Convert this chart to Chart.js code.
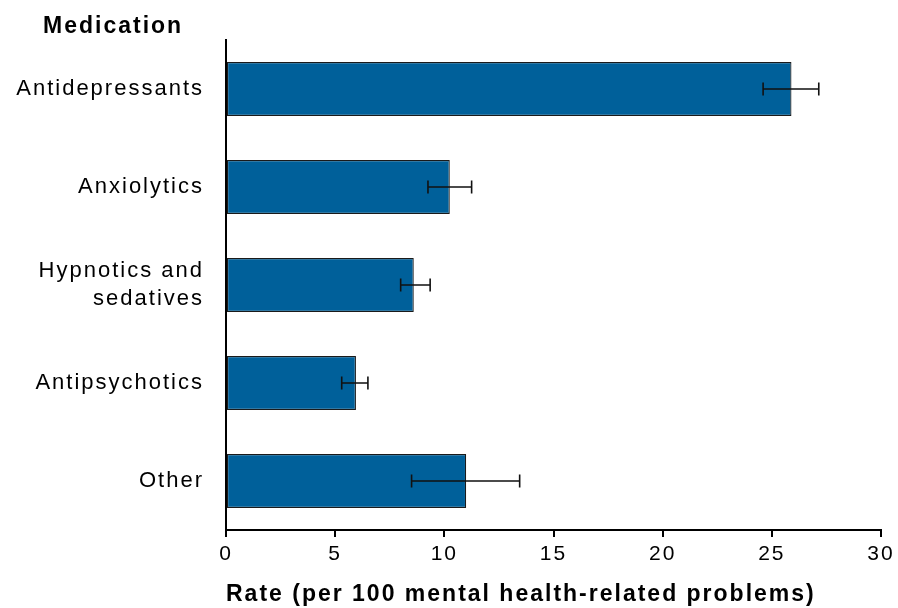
<!DOCTYPE html>
<html>
<head>
<meta charset="utf-8">
<script src="https://cdn.jsdelivr.net/npm/chart.js@4/dist/chart.umd.min.js"></script>
<style>
  html, body { margin: 0; padding: 0; background: #fff; }
  canvas { display: block; }
</style>
</head>
<body>
<canvas id="chart" width="898" height="608"></canvas>
<script>
const categories = ['Antidepressants', 'Anxiolytics', ['Hypnotics and', 'sedatives'], 'Antipsychotics', 'Other'];
const rates = [25.9, 10.25, 8.6, 5.95, 11.0];
const ciLow = [24.6, 9.25, 8.0, 5.3, 8.5];
const ciHigh = [27.15, 11.25, 9.35, 6.5, 13.45];
const xTicks = [0, 5, 10, 15, 20, 25, 30];

Chart.defaults.font.family = '"Liberation Sans", Arial, sans-serif';
Chart.defaults.color = '#000';

// error bars drawn from the scales
const errorBars = {
  id: 'errorBars',
  afterDatasetsDraw(chart) {
    const ctx = chart.ctx;
    const x = chart.scales.x;
    const y = chart.scales.y;
    ctx.save();
    ctx.strokeStyle = '#111';
    ctx.lineWidth = 1.6;
    rates.forEach((v, i) => {
      const py = y.getPixelForValue(i);
      const x1 = x.getPixelForValue(ciLow[i]);
      const x2 = x.getPixelForValue(ciHigh[i]);
      ctx.beginPath();
      ctx.moveTo(x1, py);
      ctx.lineTo(x2, py);
      ctx.moveTo(x1, py - 6.5);
      ctx.lineTo(x1, py + 6.5);
      ctx.moveTo(x2, py - 6.5);
      ctx.lineTo(x2, py + 6.5);
      ctx.stroke();
    });
    ctx.restore();
  }
};

const spacing = {
  id: 'spacing',
  beforeDraw(chart) {
    chart.ctx.letterSpacing = '2px';
  },
  afterDraw(chart) {
    const ctx = chart.ctx;
    ctx.save();
    ctx.letterSpacing = '2px';
    ctx.font = 'bold 23px "Liberation Sans", Arial, sans-serif';
    ctx.fillStyle = '#000';
    ctx.textBaseline = 'middle';
    ctx.textAlign = 'left';
    ctx.fillText('Medication', 43, 27);
    ctx.restore();
  }
};

new Chart(document.getElementById('chart').getContext('2d'), {
  type: 'bar',
  data: {
    labels: categories,
    datasets: [{
      data: rates,
      backgroundColor: '#00609a',
      borderColor: '#1a1a1a',
      borderWidth: 1.2,
      borderSkipped: false,
      barPercentage: 0.55,
      categoryPercentage: 1
    }]
  },
  options: {
    indexAxis: 'y',
    responsive: false,
    animation: false,
    layout: {
      padding: { top: 40, right: 17, left: 0, bottom: 0 }
    },
    plugins: {
      legend: { display: false },
      tooltip: { enabled: false }
    },
    scales: {
      y: {
        afterFit(scale) { scale.width = 226; },
        grid: { display: false },
        border: { display: true, color: '#000', width: 2 },
        ticks: {
          padding: 14,
          font: { size: 22, lineHeight: 1.27 },
          color: '#000'
        }
      },
      x: {
        min: 0,
        max: 30,
        afterFit(scale) { scale.height = 78; },
        afterBuildTicks(scale) {
          scale.ticks = xTicks.map(v => ({ value: v }));
        },
        grid: {
          display: true,
          drawOnChartArea: false,
          drawTicks: true,
          tickLength: 7,
          color: '#000',
          lineWidth: 2
        },
        border: { display: true, color: '#000', width: 2 },
        ticks: {
          padding: 5,
          maxRotation: 0,
          font: { size: 21 },
          color: '#000'
        },
        title: {
          display: true,
          align: 'start',
          text: 'Rate (per 100 mental health-related problems)',
          font: { size: 23, weight: 'bold' },
          color: '#000',
          padding: { top: 0, bottom: 0 }
        }
      }
    }
  },
  plugins: [errorBars, spacing]
});
</script>
</body>
</html>
